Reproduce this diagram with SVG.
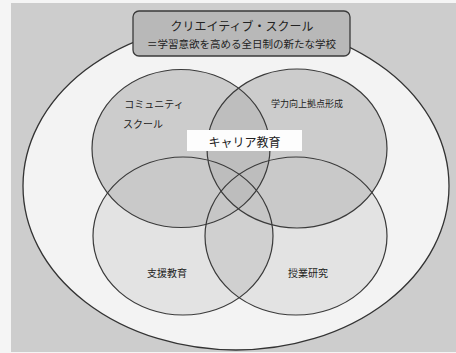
<svg xmlns="http://www.w3.org/2000/svg" width="456" height="353" viewBox="0 0 456 353">
<style>
.t{font-family:"Noto Sans CJK JP","Noto Sans CJK SC",sans-serif;fill:#222;text-anchor:middle;dominant-baseline:central}
.ln{stroke:#3a3a3a;stroke-width:1.2;fill:none}
</style>
<defs>
<clipPath id="cBL"><ellipse cx="183" cy="236" rx="90" ry="79"/></clipPath>
<clipPath id="cTL"><ellipse cx="181" cy="148.5" rx="89" ry="79"/></clipPath>
</defs>
<rect x="0" y="0" width="456" height="353" fill="#f5f5f5"/>
<rect x="11" y="3" width="445" height="349" fill="#cdcdcd"/>
<g id="frame">
<ellipse cx="236" cy="186" rx="213" ry="164" fill="#f3f3f3" stroke="#333" stroke-width="1.3"/>
</g>
<g id="support">
<ellipse cx="183" cy="236" rx="90" ry="79" fill="#e3e3e3"/>
</g>
<g id="research">
<ellipse cx="296" cy="236" rx="91" ry="79" fill="#e3e3e3"/>
<ellipse cx="296" cy="236" rx="91" ry="79" fill="#d0d0d0" clip-path="url(#cBL)"/>
</g>
<g id="community">
<ellipse cx="181" cy="148.5" rx="89" ry="79" fill="#c4c4c4" fill-opacity="0.85"/>
</g>
<g id="academic">
<ellipse cx="297" cy="148.5" rx="90" ry="79.5" fill="#c4c4c4" fill-opacity="0.85"/>
<ellipse cx="297" cy="148.5" rx="90" ry="79.5" fill="#000" fill-opacity="0.04" clip-path="url(#cTL)"/>
</g>
<g id="connectors">
<ellipse class="ln" cx="183" cy="236" rx="90" ry="79"/>
<ellipse class="ln" cx="296" cy="236" rx="91" ry="79"/>
<ellipse class="ln" cx="181" cy="148.5" rx="89" ry="79"/>
<ellipse class="ln" cx="297" cy="148.5" rx="90" ry="79.5"/>
</g>
<g id="title">
<rect x="133" y="11" width="217" height="45" rx="6" fill="#b8b8b8" stroke="#3a3a3a" stroke-width="1.3"/>
<text class="t" x="242" y="25" font-size="12">クリエイティブ・スクール</text>
<text class="t" x="241.5" y="43" font-size="10.5">＝学習意欲を高める全日制の新たな学校</text>
</g>
<g id="labels">
<text class="t" x="154" y="103" font-size="10">コミュニティ</text>
<text class="t" x="143" y="123" font-size="10">スクール</text>
<text class="t" x="307" y="103" font-size="9">学力向上拠点形成</text>
<text class="t" x="167" y="272" font-size="10">支援教育</text>
<text class="t" x="308" y="272" font-size="10">授業研究</text>
</g>
<g id="career">
<rect x="187" y="130" width="115" height="21" fill="#fdfdfd"/>
<text class="t" x="244.5" y="141" font-size="12">キャリア教育</text>
</g>
</svg>
